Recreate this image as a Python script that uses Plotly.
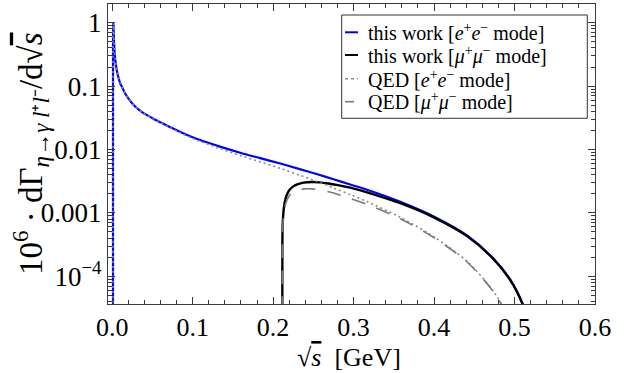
import plotly.graph_objects as go

# ---------------- data ----------------
x_ee = [0.00102, 0.00104, 0.00108, 0.00115, 0.0013, 0.0016, 0.0019, 0.0023, 0.0029, 0.0037,
        0.0048, 0.0062, 0.0077, 0.0100, 0.0127, 0.0160, 0.0200, 0.0272, 0.0376, 0.050,
        0.060, 0.072, 0.084, 0.096, 0.109, 0.134, 0.159, 0.184, 0.209, 0.233,
        0.254, 0.275, 0.2958, 0.3166, 0.358, 0.3995, 0.441, 0.474, 0.495, 0.510,
        0.522, 0.532]
y_work_ee = [1e-6, 0.4, 0.7, 0.9, 0.99, 0.92, 0.72, 0.5, 0.36, 0.27,
             0.21, 0.165, 0.138, 0.11, 0.094, 0.077, 0.064, 0.0495, 0.0385, 0.0312,
             0.0268, 0.0225, 0.019, 0.0163, 0.0141, 0.0111, 0.0089, 0.0073, 0.0060, 0.0049,
             0.0041, 0.0034, 0.0028, 0.00232, 0.0015, 0.00088, 0.00044, 0.000189, 8.7e-5, 3.7e-5,
             1.36e-5, 3.8e-6]
y_qed_ee = [1e-6, 0.4, 0.7, 0.9, 0.99, 0.92, 0.72, 0.5, 0.36, 0.27,
            0.21, 0.165, 0.138, 0.11, 0.094, 0.077, 0.064, 0.0494, 0.0384, 0.0310,
            0.0264, 0.0221, 0.0185, 0.0157, 0.01347, 0.01035, 0.00806, 0.00638, 0.00503, 0.00393,
            0.00315, 0.00248, 0.00194, 0.00151, 0.000851, 0.000423, 0.000172, 5.75e-5, 2.0e-5, 8.5e-6,
            3.2e-6, 9e-7]

x_mm = [0.2113, 0.2115, 0.2120, 0.2130, 0.2145, 0.2165, 0.2200, 0.2250, 0.2300, 0.2380,
        0.2480, 0.2580, 0.2700, 0.2790, 0.2958, 0.3166, 0.358, 0.3995, 0.441, 0.474,
        0.495, 0.510, 0.522, 0.532]
y_work_mm = [1e-7, 0.00036, 0.00071, 0.0011, 0.00149, 0.00185, 0.00227, 0.00262, 0.00282, 0.00301,
             0.00307, 0.00303, 0.00289, 0.00277, 0.0025, 0.00211, 0.00142, 0.00085, 0.00043, 0.000186,
             8.6e-5, 3.66e-5, 1.35e-5, 3.8e-6]
y_qed_mm = [1e-7, 0.000296, 0.000583, 0.000908, 0.00122, 0.00151, 0.00185, 0.00216, 0.00227, 0.00239,
            0.00239, 0.00231, 0.00214, 0.00199, 0.0017, 0.00137, 0.000808, 0.000409, 0.000168, 5.65e-5,
            1.97e-5, 8.4e-6, 3.2e-6, 9e-7]

x_ticks = [0.0, 0.1, 0.2, 0.3, 0.4, 0.5, 0.6]
x_ticktext = ["0.0", "0.1", "0.2", "0.3", "0.4", "0.5", "0.6"]
y_ticks = [1e-4, 1e-3, 1e-2, 1e-1, 1]
y_ticktext = ["10<sup>−4</sup>", "0.001", "0.01", "0.1", "1"]

legend_labels = ["this work [<i>e</i><sup>+</sup><i>e</i><sup>−</sup> mode]",
                 "this work [<i>μ</i><sup>+</sup><i>μ</i><sup>−</sup> mode]",
                 "QED [<i>e</i><sup>+</sup><i>e</i><sup>−</sup> mode]",
                 "QED [<i>μ</i><sup>+</sup><i>μ</i><sup>−</sup> mode]"]

# ---------------- figure ----------------
FONT = "Liberation Serif"
FRAME = "#3a3a3a"
styles = [dict(color="#0000ff", width=2.2, dash="solid"),
          dict(color="#000000", width=2.4, dash="solid"),
          dict(color="#8a8a8a", width=1.6, dash="2px,3px"),
          dict(color="#7a7a7a", width=1.6, dash="14px,12px")]

fig = go.Figure()
series = [(x_ee, y_work_ee), (x_mm, y_work_mm), (x_ee, y_qed_ee), (x_mm, y_qed_mm)]
for (xs, ys), st, name in zip(series, styles, legend_labels):
    fig.add_trace(go.Scatter(x=xs, y=ys, mode="lines", name=name,
                             line=dict(color=st["color"], width=st["width"], dash=st["dash"],
                                       shape="spline", smoothing=0.8),
                             showlegend=False))

minor_y = [k * 10 ** e for e in range(-5, 1) for k in range(2, 10)]

fig.update_xaxes(range=[-0.0052, 0.6], tickvals=x_ticks, ticktext=x_ticktext,
                 ticks="inside", ticklen=7, tickwidth=1.2, tickcolor=FRAME,
                 minor=dict(dtick=0.02, tick0=0, ticks="inside", ticklen=4, tickwidth=1, tickcolor=FRAME),
                 showline=True, linecolor=FRAME, linewidth=1.2, mirror="allticks",
                 showgrid=False, zeroline=False,
                 tickfont=dict(family=FONT, size=26, color="black"))
fig.update_yaxes(type="log", range=[-4.437, 0.295], tickvals=y_ticks, ticktext=y_ticktext,
                 ticks="inside", ticklen=7, tickwidth=1.2, tickcolor=FRAME,
                 minor=dict(tickvals=minor_y, ticks="inside", ticklen=4, tickwidth=1, tickcolor=FRAME),
                 showline=True, linecolor=FRAME, linewidth=1.2, mirror="allticks",
                 showgrid=False, zeroline=False,
                 tickfont=dict(family=FONT, size=27, color="black"))

W, H = 630, 373
L, R, T, B = 108, 35, 4, 69
pw, ph = W - L - R, H - T - B


def px2paper(px, py):
    return (px - L) / pw, (H - B - py) / ph


shapes = []
annotations = []
# legend box
x0, y1 = px2paper(341.7, 15)
x1, y0 = px2paper(587.3, 118.3)
shapes.append(dict(type="rect", xref="paper", yref="paper", x0=x0, x1=x1, y0=y0, y1=y1,
                   line=dict(color="#333333", width=1), fillcolor="white", layer="above"))
rows = [32.3, 55.0, 78.7, 101.7]
sample_dash = ["solid", "solid", "dot", "dash"]
for st, label, ry, sd in zip(styles, legend_labels, rows, sample_dash):
    sx0, sy = px2paper(345, ry)
    sx1, _ = px2paper(358, ry)
    shapes.append(dict(type="line", xref="paper", yref="paper", x0=sx0, x1=sx1, y0=sy, y1=sy,
                       line=dict(color=st["color"], width=2 if sd == "solid" else 1.6, dash=sd),
                       layer="above"))
    tx, ty = px2paper(366, ry)
    annotations.append(dict(xref="paper", yref="paper", x=tx, y=ty, text=label, showarrow=False,
                            xanchor="left", yanchor="middle",
                            font=dict(family=FONT, size=20, color="black")))

# axis titles
OVER_S = "<span style='text-decoration:overline'><i>s</i></span>"
ax, ay = px2paper(349, 357)
annotations.append(dict(xref="paper", yref="paper", x=ax, y=ay,
                        text="√" + OVER_S + "  [GeV]", showarrow=False, xanchor="center", yanchor="middle",
                        font=dict(family=FONT, size=26, color="black")))
bx, by = px2paper(30, 154)
annotations.append(dict(xref="paper", yref="paper", x=bx, y=by, textangle=-90,
                        text="10<sup>6</sup> · dΓ<sub><i>η</i>→<i>γ l</i>⁺<i>l</i>⁻</sub>/d√" + OVER_S,
                        showarrow=False, xanchor="center", yanchor="middle",
                        font=dict(family=FONT, size=33, color="black")))

fig.update_layout(width=W, height=H, margin=dict(l=L, r=R, t=T, b=B),
                  paper_bgcolor="white", plot_bgcolor="white",
                  shapes=shapes, annotations=annotations, showlegend=False)

fig.write_html("out.html")
